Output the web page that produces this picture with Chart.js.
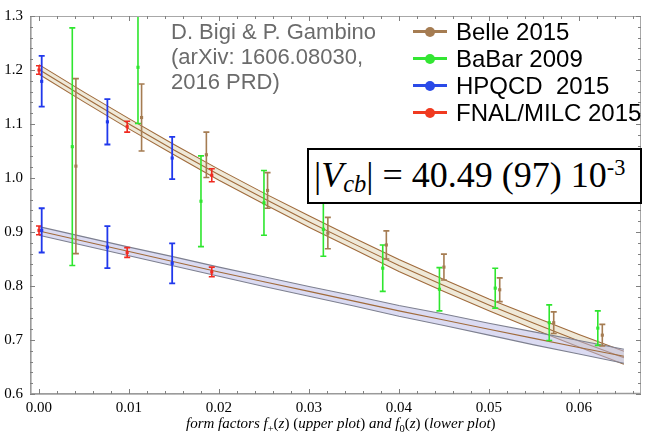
<!DOCTYPE html>
<html>
<head>
<meta charset="utf-8">
<script src="https://cdn.jsdelivr.net/npm/chart.js@4.4.1/dist/chart.umd.min.js"></script>
<style>
    body { margin: 0; background: #fff; }
    #wrap { position: relative; width: 645px; height: 433px; }
    .note { position: absolute; left: 171px; top: 19px; font: 22px/25px "Liberation Sans", Arial, sans-serif; color: #6b6b6b; }
    .legend { position: absolute; left: 413px; top: 18px; font: 24px "Liberation Sans", Arial, sans-serif; color: #000; }
    .row { height: 27px; display: flex; align-items: center; white-space: pre; }
    .mark { position: relative; width: 34px; height: 27px; margin-right: 9px; }
    .mark .ln { position: absolute; left: 0; right: 0; top: 12px; height: 3px; }
    .mark .dot { position: absolute; left: 12px; top: 8.5px; width: 10px; height: 10px; border-radius: 50%; }
    .vcb { position: absolute; left: 307px; top: 148px; width: 335px; height: 56px; box-sizing: border-box;
           border: 2.5px solid #000; background: #fff; font: 36px/50px "Liberation Serif", "Times New Roman", serif;
           padding-left: 5px; white-space: pre; }
    .vcb sub { font-size: 0.68em; vertical-align: -0.22em; line-height: 0; }
    .vcb sup { font-size: 0.62em; vertical-align: 0.55em; line-height: 0; }
    .xtitle { position: absolute; left: 186px; top: 415px; font: 15px "Liberation Serif", "Times New Roman", serif; white-space: pre; }
    .xtitle sub { font-size: 0.7em; line-height: 0; }
</style>
</head>
<body>
<div id="wrap">
    <canvas id="ffChart"></canvas>
    <div class="note">D. Bigi &amp; P. Gambino<br>(arXiv: 1606.08030,<br>2016 PRD)</div>
    <div class="legend" id="legend"></div>
    <div class="vcb"><span>|<i>V</i><sub><i>cb</i></sub>| = 40.49 (97) 10<sup>-3</sup></span></div>
    <div class="xtitle"><i>form factors f</i><sub>+</sub>(<i>z</i>) (<i>upper plot</i>) <i>and f</i><sub>0</sub>(<i>z</i>) (<i>lower plot</i>)</div>
</div>
<script>
    // fit bands
    const bandZ    = [0, 0.005, 0.01, 0.015, 0.02, 0.025, 0.03, 0.035, 0.04, 0.045, 0.05, 0.055, 0.06, 0.065];
    const fPlusHi  = [1.210, 1.159, 1.110, 1.062, 1.016, 0.972, 0.930, 0.889, 0.849, 0.812, 0.776, 0.743, 0.710, 0.679];
    const fPlusMid = [1.201, 1.150, 1.100, 1.052, 1.006, 0.962, 0.919, 0.878, 0.838, 0.801, 0.765, 0.731, 0.698, 0.667];
    const fPlusLo  = [1.192, 1.141, 1.091, 1.043, 0.996, 0.952, 0.909, 0.868, 0.827, 0.790, 0.754, 0.720, 0.687, 0.655];
    const fZeroHi  = [0.910, 0.891, 0.872, 0.854, 0.835, 0.817, 0.799, 0.782, 0.764, 0.748, 0.731, 0.715, 0.699, 0.683];
    const fZeroMid = [0.902, 0.883, 0.864, 0.845, 0.826, 0.808, 0.790, 0.772, 0.754, 0.737, 0.720, 0.703, 0.686, 0.670];
    const fZeroLo  = [0.894, 0.875, 0.856, 0.837, 0.818, 0.799, 0.781, 0.763, 0.744, 0.727, 0.709, 0.691, 0.674, 0.657];

    // experimental points
    const belleZ   = [0.0041, 0.0114, 0.0186, 0.0254, 0.0321, 0.0386, 0.0450, 0.0512, 0.0572, 0.0626];
    const belleF   = [1.022, 1.112, 1.043, 0.977, 0.898, 0.876, 0.835, 0.793, 0.732, 0.709];
    const belleErr = [0.162, 0.062, 0.042, 0.033, 0.029, 0.026, 0.024, 0.022, 0.020, 0.020];

    const babarZ   = [0.0037, 0.0110, 0.0180, 0.0250, 0.0316, 0.0382, 0.0445, 0.0507, 0.0567, 0.0621];
    const babarF   = [1.058, 1.205, 0.957, 0.954, 0.905, 0.833, 0.794, 0.796, 0.732, 0.722];
    const babarErr = [0.220, 0.104, 0.084, 0.060, 0.050, 0.043, 0.040, 0.037, 0.033, 0.032];

    // lattice: f+ points then f0 points
    const hpqcdZ   = [0.0003, 0.0076, 0.0148, 0.0003, 0.0076, 0.0148];
    const hpqcdF   = [1.179, 1.104, 1.037, 0.903, 0.872, 0.842];
    const hpqcdErr = [0.047, 0.042, 0.039, 0.041, 0.039, 0.037];

    const fnalZ    = [0.0000, 0.0098, 0.0192, 0.0000, 0.0098, 0.0192];
    const fnalF    = [1.200, 1.095, 1.005, 0.903, 0.862, 0.826];
    const fnalErr  = [0.008, 0.010, 0.012, 0.008, 0.009, 0.009];

    const seriesNames  = ['Belle 2015', 'BaBar 2009', 'HPQCD  2015', 'FNAL/MILC 2015'];
    const seriesColors = ['#a57c52', '#2ee62e', '#2038ec', '#f02a20'];
    const legendColors = ['#a57c52', '#33e633', '#2a4ae8', '#f03a20'];

    function pts(zs, ys) {
        return zs.map((z, i) => ({ x: z, y: ys[i] }));
    }

    function isMajor(v, k) {
        return Math.abs(v * k - Math.round(v * k)) < 1e-6;
    }

    // legend
    const legend = document.getElementById('legend');
    seriesNames.forEach((name, i) => {
        const row = document.createElement('div');
        row.className = 'row';
        row.innerHTML = '<span class="mark"><span class="ln" style="background:' + legendColors[i] + '"></span>' +
            '<span class="dot" style="background:' + legendColors[i] + '"></span></span>' + name;
        legend.appendChild(row);
    });

    // vertical error bars with caps, drawn under each point set
    const errorBars = {
        id: 'errorBars',
        beforeDatasetDraw(chart, args) {
            const ds = chart.data.datasets[args.index];
            if (!ds.err) return;
            const { ctx, chartArea: a, scales: { x, y } } = chart;
            ctx.save();
            ctx.beginPath();
            ctx.rect(a.left, a.top, a.width, a.height);
            ctx.clip();
            ctx.strokeStyle = ds.borderColor;
            ctx.lineWidth = ds.errWidth;
            ds.data.forEach((p, i) => {
                const px = x.getPixelForValue(p.x);
                const top = y.getPixelForValue(p.y + ds.err[i]);
                const bot = y.getPixelForValue(p.y - ds.err[i]);
                ctx.beginPath();
                ctx.moveTo(px, top); ctx.lineTo(px, bot);
                ctx.moveTo(px - 3, top); ctx.lineTo(px + 3, top);
                ctx.moveTo(px - 3, bot); ctx.lineTo(px + 3, bot);
                ctx.stroke();
            });
            ctx.restore();
        }
    };

    // frame with inward ticks on all four sides
    const frame = {
        id: 'frame',
        afterDatasetsDraw(chart) {
            const { ctx, chartArea: a, scales: { x, y } } = chart;
            ctx.save();
            ctx.strokeStyle = '#a8a8a8';
            ctx.lineWidth = 1;
            ctx.strokeRect(a.left + 0.5, a.top + 0.5, a.width - 1, a.height - 1);
            ctx.strokeStyle = '#9a9a9a';
            ctx.lineWidth = 1.6;
            ctx.beginPath();
            ctx.moveTo(a.left + 0.8, a.top); ctx.lineTo(a.left + 0.8, a.bottom);
            ctx.lineTo(a.right, a.bottom - 0.5);
            ctx.stroke();
            ctx.strokeStyle = '#808080';
            ctx.lineWidth = 1;
            ctx.beginPath();
            x.ticks.forEach(t => {
                const px = Math.round(x.getPixelForValue(t.value)) + 0.5;
                const len = isMajor(t.value, 100) ? 5 : 3;
                ctx.moveTo(px, a.bottom); ctx.lineTo(px, a.bottom - len);
                ctx.moveTo(px, a.top); ctx.lineTo(px, a.top + len);
            });
            y.ticks.forEach(t => {
                const py = Math.round(y.getPixelForValue(t.value)) + 0.5;
                const len = isMajor(t.value, 10) ? 5 : 3;
                ctx.moveTo(a.left, py); ctx.lineTo(a.left + len, py);
                ctx.moveTo(a.right, py); ctx.lineTo(a.right - len, py);
            });
            ctx.stroke();
            ctx.restore();
        }
    };

    function bandLine(data, color, order, fill) {
        return {
            data: data,
            showLine: true,
            borderColor: color,
            borderWidth: 1.1,
            pointRadius: 0,
            fill: fill || false,
            backgroundColor: fill ? fill.color : 'transparent',
            order: order
        };
    }

    function pointSet(label, zs, ys, errs, color, width) {
        return {
            label: label,
            data: pts(zs, ys),
            err: errs,
            errWidth: width,
            borderColor: color,
            backgroundColor: color,
            pointStyle: 'rect',
            pointRadius: 2.2,
            pointBorderWidth: 0,
            showLine: false,
            order: 0
        };
    }

    const datasets = [
        bandLine(pts(bandZ, fPlusHi), '#a06b3c', 6, { target: '+1', color: 'rgba(224,212,178,0.5)' }),
        bandLine(pts(bandZ, fPlusLo), '#a06b3c', 5),
        bandLine(pts(bandZ, fPlusMid), '#a06b3c', 4),
        bandLine(pts(bandZ, fZeroHi), '#7e8090', 3, { target: '+1', color: 'rgba(184,184,230,0.5)' }),
        bandLine(pts(bandZ, fZeroLo), '#7e8090', 2),
        bandLine(pts(bandZ, fZeroMid), '#a06b3c', 1),
        pointSet(seriesNames[0], belleZ, belleF, belleErr, seriesColors[0], 1.6),
        pointSet(seriesNames[1], babarZ, babarF, babarErr, seriesColors[1], 1.6),
        pointSet(seriesNames[2], hpqcdZ, hpqcdF, hpqcdErr, seriesColors[2], 1.8),
        pointSet(seriesNames[3], fnalZ, fnalF, fnalErr, seriesColors[3], 1.6)
    ];

    const tickFont = { family: 'Liberation Serif', size: 15 };

    new Chart(document.getElementById('ffChart'), {
        type: 'scatter',
        data: { datasets: datasets },
        options: {
            responsive: true,
            maintainAspectRatio: false,
            animation: false,
            layout: { padding: { top: 15, right: 1, left: 0, bottom: 0 } },
            plugins: {
                legend: { display: false },
                tooltip: { enabled: false }
            },
            scales: {
                x: {
                    type: 'linear',
                    min: -0.001,
                    max: 0.0669,
                    grid: { display: false, drawTicks: false },
                    border: { display: false },
                    ticks: {
                        stepSize: 0.002,
                        includeBounds: false,
                        autoSkip: false,
                        maxRotation: 0,
                        padding: 5,
                        color: '#000',
                        font: tickFont,
                        callback: v => isMajor(v, 100) ? v.toFixed(2) : ''
                    },
                    afterFit: s => { s.height = 39; }
                },
                y: {
                    min: 0.6,
                    max: 1.3,
                    grid: { display: false, drawTicks: false },
                    border: { display: false },
                    ticks: {
                        stepSize: 0.02,
                        includeBounds: false,
                        autoSkip: false,
                        padding: 7,
                        color: '#000',
                        font: tickFont,
                        callback: v => isMajor(v, 10) ? v.toFixed(1) : ''
                    },
                    afterFit: s => { s.width = 30; }
                }
            }
        },
        plugins: [errorBars, frame]
    });
</script>
</body>
</html>
